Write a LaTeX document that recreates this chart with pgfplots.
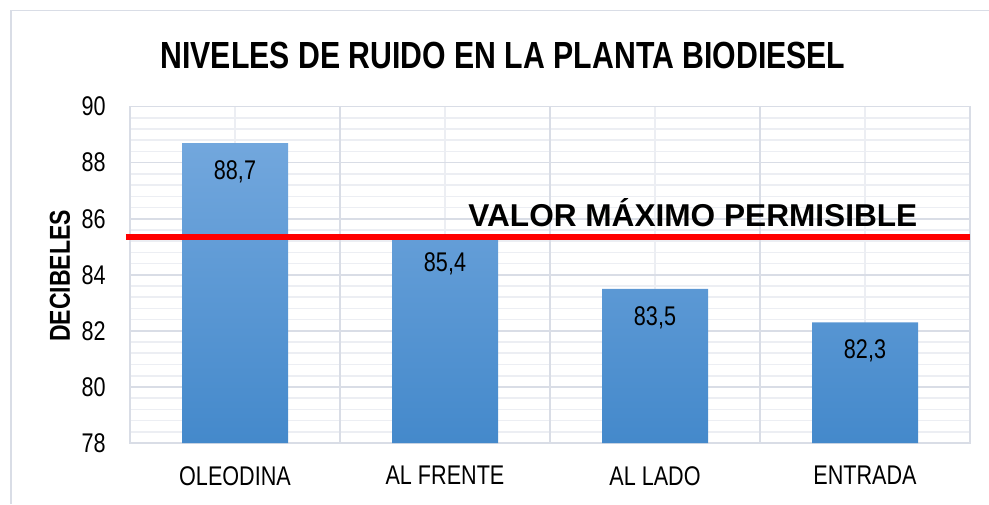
\documentclass[border=0pt]{standalone}
\usepackage{pgfplots}
\pgfplotsset{compat=1.18}
\usepackage{fontspec}
\setmainfont{Liberation Sans}
\newfontfamily\narrow{Liberation Sans}[FakeStretch=0.8]
\definecolor{gridmaj}{RGB}{217,221,230}
\definecolor{gridmin}{RGB}{236,238,243}
\definecolor{bartop}{RGB}{114,167,221}
\definecolor{barbot}{RGB}{68,137,203}

\begin{document}
\begin{tikzpicture}[x=0.5pt,y=0.5pt]
\useasboundingbox (0,0) rectangle (989,504);
% outer chart frame (only top and left are visible)
\draw[gridmaj, line width=0.8pt] (11,0) -- (11,493.3) -- (989,493.3);

\begin{axis}[
    at={(65pt,30.5pt)}, anchor=south west,
    scale only axis, width=420pt, height=168.2pt,
    xmin=-0.5, xmax=3.5, ymin=78, ymax=90,
    xtick={0,1,2,3},
    xticklabels={OLEODINA, AL FRENTE, AL LADO, ENTRADA},
    ytick={78,80,...,90},
    minor y tick num=4,
    extra x ticks={0.5,1.5,2.5},
    extra x tick labels={},
    extra x tick style={major x grid style={gridmaj, line width=0.8pt}},
    xmajorgrids, ymajorgrids, yminorgrids,
    major x grid style={gridmin, line width=0.8pt},
    major y grid style={gridmaj, line width=0.8pt},
    minor y grid style={gridmin, line width=0.8pt},
    axis line style={gridmaj, line width=0.8pt},
    major tick length=0pt, minor tick length=0pt,
    clip=false,
    /pgf/number format/assume math mode=true,
    tick label style={font=\narrow\fontsize{13.5}{16}\selectfont, inner sep=0pt},
    yticklabel style={anchor=east, xshift=-12pt},
    xticklabel style={anchor=north, yshift=-11.5pt},
  ]

\addplot[ybar, bar width=53pt, draw=none, top color=bartop, bottom color=barbot]
  coordinates {(0,88.7) (1,85.4) (2,83.5) (3,82.3)};

\addplot[ybar, bar width=53pt, draw=none, fill=none,
    nodes near coords,
    /pgf/number format/.cd, use comma, fixed, fixed zerofill, precision=1,
    /pgfplots/.cd,
    every node near coord/.append style={anchor=north, inner sep=0pt, yshift=-8.5pt,
      text=black, font=\narrow\fontsize{13.5}{16}\selectfont,
      /pgf/number format/assume math mode=true}]
  coordinates {(0,88.7) (1,85.4) (2,83.5) (3,82.3)};

% permissible limit
\addplot[red, line width=3.3pt] coordinates {(-0.52,85.35) (3.5,85.35)};
\end{axis}

\node[anchor=base, font=\narrow\bfseries\fontsize{18.9}{22}\selectfont] at (503,435.5)
  {NIVELES DE RUIDO EN LA PLANTA BIODIESEL};
\node[anchor=base west, inner sep=0pt, font=\bfseries\fontsize{15.8}{19}\selectfont] at (468,278)
  {VALOR MÁXIMO PERMISIBLE};
\node[rotate=90, font=\narrow\bfseries\fontsize{14.4}{17}\selectfont] at (60,228)
  {DECIBELES};
\end{tikzpicture}
\end{document}
